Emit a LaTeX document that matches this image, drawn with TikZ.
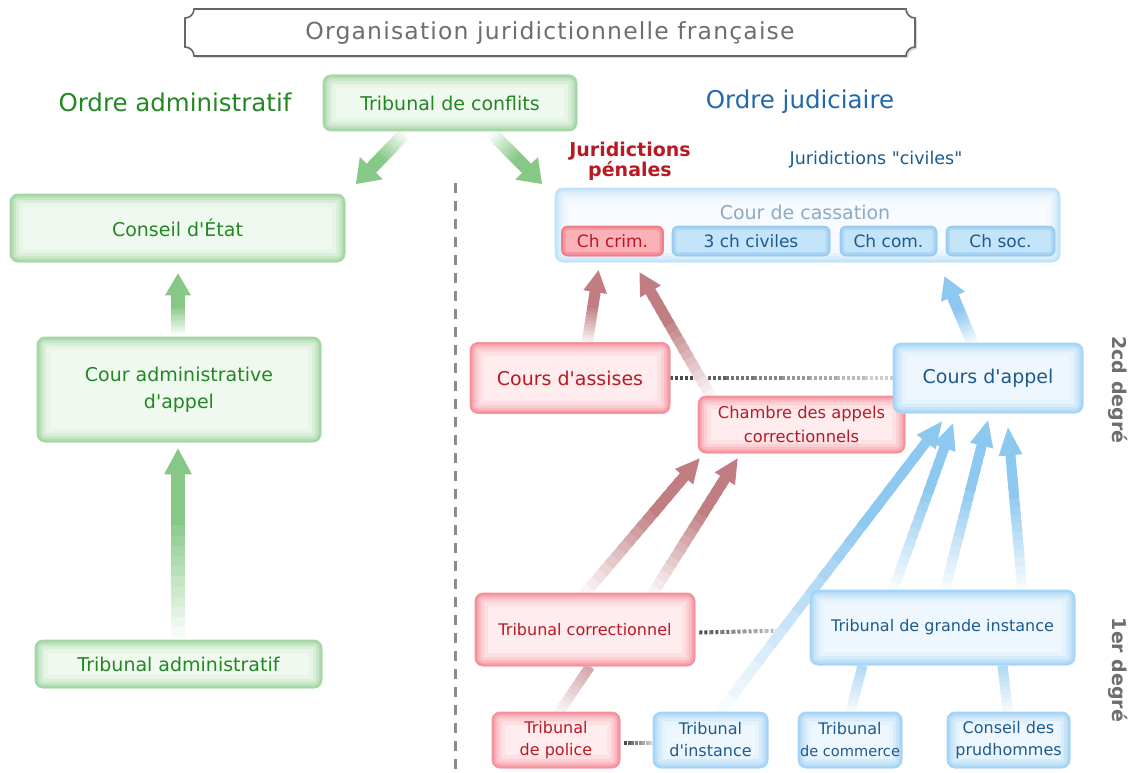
\documentclass[tikz,border=0pt]{standalone}
\usepackage{fontspec}
\setmainfont{DejaVu Sans}
\newfontfamily\titlefont{DejaVu Sans}[LetterSpace=5]
\usetikzlibrary{calc,backgrounds}

\definecolor{gE}{RGB}{160,212,160}
\definecolor{gF}{RGB}{240,249,240}
\definecolor{gT}{RGB}{35,135,35}
\definecolor{rE}{RGB}{245,140,150}
\definecolor{rF}{RGB}{255,236,238}
\definecolor{rT}{RGB}{185,25,35}
\definecolor{bE}{RGB}{160,210,245}
\definecolor{bF}{RGB}{238,247,254}
\definecolor{bT}{RGB}{30,90,140}
\definecolor{bT2}{RGB}{35,105,170}
\definecolor{ccE}{RGB}{190,225,250}
\definecolor{ccF}{RGB}{247,251,255}
\definecolor{ccT}{RGB}{140,170,195}
\definecolor{sbE}{RGB}{150,200,240}
\definecolor{sbF}{RGB}{196,228,250}
\definecolor{srE}{RGB}{240,120,130}
\definecolor{srF}{RGB}{250,178,184}
\definecolor{gA}{RGB}{135,200,135}
\definecolor{rA}{RGB}{192,125,130}
\definecolor{bA}{RGB}{140,200,240}
\definecolor{grayT}{RGB}{110,110,110}

\tikzset{
  glow/.style n args={3}{rectangle, rounded corners=8pt, inner sep=0pt, align=center,
    text=#3, fill=#2, draw=#1!85!#2, line width=0.8pt,
    path picture={
      \draw[#1!12!#2, line width=26pt, rounded corners=8pt] (path picture bounding box.south west) rectangle (path picture bounding box.north east);
      \draw[#1!30!#2, line width=18pt, rounded corners=8pt] (path picture bounding box.south west) rectangle (path picture bounding box.north east);
      \draw[#1!50!#2, line width=12pt, rounded corners=8pt] (path picture bounding box.south west) rectangle (path picture bounding box.north east);
      \draw[#1!75!#2, line width=7pt, rounded corners=8pt] (path picture bounding box.south west) rectangle (path picture bounding box.north east);
      \draw[#1, line width=3pt, rounded corners=8pt] (path picture bounding box.south west) rectangle (path picture bounding box.north east);}},
  subglow/.style n args={3}{rectangle, rounded corners=6pt, inner sep=0pt, align=center,
    text=#3, fill=#2, draw=#1!80!#2, line width=0.6pt, minimum height=30pt,
    font=\fontsize{17}{20}\selectfont,
    path picture={
      \draw[#1!50!#2, line width=8pt, rounded corners=6pt] (path picture bounding box.south west) rectangle (path picture bounding box.north east);
      \draw[#1, line width=3pt, rounded corners=6pt] (path picture bounding box.south west) rectangle (path picture bounding box.north east);}},
  gbox/.style={glow={gE}{gF}{gT}, font=\fontsize{19}{27}\selectfont},
  rbox/.style={glow={rE}{rF}{rT}},
  bbox/.style={glow={bE}{bF}{bT}},
  bigtxt/.style={font=\fontsize{19}{24}\selectfont},
  midtxt/.style={font=\fontsize{16.3}{24}\selectfont},
  smltxt/.style={font=\fontsize{16}{22}\selectfont},
  degre/.style={rotate=-90, text=grayT, font=\bfseries\fontsize{19}{22}\selectfont},
  sepline/.style={draw=black!45, line width=3pt, dash pattern=on 10pt off 8pt},
}

% fat arrow: from, to, colour, shaft width, half head width, head length
\newcommand\fatarr[6]{%
  \coordinate (hb) at ($(#2)!#6!(#1)$);
  \foreach \i in {0,...,15}{
    \pgfmathtruncatemacro\pc{min(100,8+92*\i/11)}
    \draw[line width=#4, draw=#3!\pc!white] ($(#1)!\i/16!(hb)$) -- ($(#1)!{min(1.02,(\i+1.4)/16)}!(hb)$);
  }
  \fill[#3] (#2) -- ($(hb)!#5!90:(#2)$) -- ($(hb)!#5!-90:(#2)$) -- cycle;
}
% fading shaft without head
\newcommand\fatline[4]{%
  \foreach \i in {0,...,11}{
    \pgfmathtruncatemacro\pc{8+60*\i/11}
    \draw[line width=#4, draw=#3!\pc!white] ($(#1)!\i/12!(#2)$) -- ($(#1)!{min(1,(\i+1.4)/12)}!(#2)$);
  }
}
% dotted grey connector, dark to light
\newcommand\dotconn[2]{%
  \foreach \i in {0,...,7}{
    \pgfmathtruncatemacro\pc{70-50*\i/7}
    \draw[draw=black!\pc, line width=4pt, dash pattern=on 3pt off 2pt] ($(#1)!\i/8!(#2)$) -- ($(#1)!{(\i+1)/8}!(#2)$);
  }
}
\newcommand\ap{\textquotesingle}

\begin{document}
\begin{tikzpicture}[x=1pt,y=-1pt]
\useasboundingbox (0,0) rectangle (1137,773);

% title
\fill[black!15] (187,20) .. controls (192,20) and (196,16) .. (196,11) -- (908,11) .. controls (908,16) and (912,20) .. (917,20) -- (917,49) .. controls (912,49) and (908,53) .. (908,58) -- (196,58) .. controls (196,53) and (192,49) .. (187,49) -- cycle;
\filldraw[fill=white, draw=black!60, line width=1.6pt] (185,18) .. controls (190,18) and (194,14) .. (194,9) -- (906,9) .. controls (906,14) and (910,18) .. (915,18) -- (915,47) .. controls (910,47) and (906,51) .. (906,56) -- (194,56) .. controls (194,51) and (190,47) .. (185,47) -- cycle;
\node[text=grayT, font=\titlefont\fontsize{23.5}{26}\selectfont] (title) at (550,33) {Organisation juridictionnelle française};

% headings
\node[text=gT, font=\fontsize{24.5}{28}\selectfont] (oadm) at (175,102) {Ordre administratif};
\node[text=bT2, font=\fontsize{24.5}{28}\selectfont] (ojud) at (800,102) {Ordre judiciaire};
\node[text=rT, align=center, font=\bfseries\fontsize{19}{20}\selectfont] (jpen) at (630,161) {Juridictions\\pénales};
\node[text=bT, font=\fontsize{17.5}{20}\selectfont] (jciv) at (876,160) {Juridictions \textquotedbl civiles\textquotedbl};

% administrative order
\node[gbox, minimum width=254pt, minimum height=56pt] (tc) at (450,103) {Tribunal de conflits};
\node[gbox, minimum width=335pt, minimum height=68pt] (ce) at (177.5,228) {Conseil d\ap État};
\node[gbox, minimum width=284pt, minimum height=105pt] (caa) at (179,389.5) {Cour administrative\\d\ap appel};
\node[gbox, minimum width=287pt, minimum height=48pt] (ta) at (178.5,664) {Tribunal administratif};

% Cour de cassation
\node[glow={ccE}{ccF}{ccT}, minimum width=505pt, minimum height=74pt] (cass) at (807.5,225) {};
\node[text=ccT, font=\fontsize{19}{22}\selectfont] (casslbl) at (805,212) {Cour de cassation};
\node[subglow={srE}{srF}{rT}, minimum width=102pt] (chcrim) at (612.5,241) {Ch crim.};
\node[subglow={sbE}{sbF}{bT}, minimum width=158pt] (chciv) at (751,241) {3 ch civiles};
\node[subglow={sbE}{sbF}{bT}, minimum width=97pt] (chcom) at (888.5,241) {Ch com.};
\node[subglow={sbE}{sbF}{bT}, minimum width=109pt] (chsoc) at (1000.5,241) {Ch soc.};

% second degree
\node[rbox, bigtxt, minimum width=200pt, minimum height=71pt] (assises) at (570,378) {Cours d\ap assises};
\node[rbox, midtxt, minimum width=207pt, minimum height=57pt] (chapp) at (801.5,424.5) {Chambre des appels\\correctionnels};
\node[bbox, bigtxt, minimum width=190pt, minimum height=70pt] (appel) at (988,378) {Cours d\ap appel};

% first degree
\node[rbox, smltxt, minimum width=220pt, minimum height=73pt] (corr) at (585,629.5) {Tribunal correctionnel};
\node[bbox, smltxt, minimum width=265pt, minimum height=75pt] (tgi) at (942.5,627.5) {Tribunal de grande instance};
\node[rbox, smltxt, minimum width=128pt, minimum height=56pt] (police) at (556,740) {Tribunal\\de police};
\node[bbox, smltxt, minimum width=115pt, minimum height=56pt] (inst) at (710.5,740) {Tribunal\\d\ap instance};
\node[bbox, smltxt, minimum width=104pt, minimum height=56pt] (comm) at (850,740) {Tribunal\\{\fontsize{14.6}{22}\selectfont de commerce}};
\node[bbox, smltxt, minimum width=123pt, minimum height=56pt] (prud) at (1008.5,740) {Conseil des\\prudhommes};

% degree labels
\node[degre] (deg2) at (1118,390) {2cd degré};
\node[degre] (deg1) at (1118,670) {1er degré};

% arrow end points
\coordinate (g1s) at ($(tc.south)+(-45,2)$);
\coordinate (g1e) at (356,184);
\coordinate (g2s) at ($(tc.south)+(42,2)$);
\coordinate (g2e) at (542,184);
\coordinate (g3s) at ($(caa.north)+(-1,-2)$);
\coordinate (g3e) at ($(ce.south)+(0.5,11)$);
\coordinate (g4s) at ($(ta.north)+(-0.5,-2)$);
\coordinate (g4e) at ($(caa.south)+(-1,6)$);
\coordinate (r1s) at ($(assises.north)+(17,2)$);
\coordinate (r1e) at ($(chcrim.south)+(-14,14)$);
\coordinate (r2s) at ($(chapp.north west)+(14,2)$);
\coordinate (r2e) at ($(chcrim.south)+(27,16)$);
\coordinate (r3s) at ($(corr.north)+(-1,2)$);
\coordinate (r3e) at ($(chapp.south west)+(2,5)$);
\coordinate (r4s) at ($(corr.north)+(67,2)$);
\coordinate (r4e) at ($(chapp.south west)+(40,5)$);
\coordinate (r5s) at ($(police.north)+(2,2)$);
\coordinate (r5e) at ($(corr.south)+(5,0)$);
\coordinate (b1s) at ($(appel.north)+(-15,2)$);
\coordinate (b1e) at ($(cass.south)+(137,14)$);
\coordinate (b2s) at ($(inst.north)+(8,2)$);
\coordinate (b2e) at ($(appel.south)+(-46,8)$);
\coordinate (b3s) at ($(tgi.north)+(-50,2)$);
\coordinate (b3e) at ($(appel.south)+(-35,10)$);
\coordinate (b4s) at ($(tgi.north)+(2,2)$);
\coordinate (b4e) at ($(appel.south)+(0,7)$);
\coordinate (b5s) at ($(tgi.north)+(80,2)$);
\coordinate (b5e) at ($(appel.south)+(20,14)$);
\coordinate (b6s) at ($(comm.north)+(0,2)$);
\coordinate (b6e) at ($(tgi.south)+(-80,0)$);
\coordinate (b7s) at ($(prud.north)+(-0.5,2)$);
\coordinate (b7e) at ($(tgi.south)+(60,0)$);
\coordinate (vtop) at (455,183);
\coordinate (vbot) at (455,773);

\begin{pgfonlayer}{background}
  \fill[white] (0,0) rectangle (1137,773);
  \draw[sepline] (vtop) -- (vbot);
  \dotconn{assises.east}{appel.west}
  \dotconn{$(corr.east)+(4,3)$}{$(tgi.west)+(-22,3)$}
  \dotconn{$(police.east)+(4,3)$}{$(inst.west)+(0,3)$}
  % green
  \fatarr{g1s}{g1e}{gA}{13pt}{16pt}{22pt}
  \fatarr{g2s}{g2e}{gA}{13pt}{16pt}{22pt}
  \fatarr{g3s}{g3e}{gA}{14pt}{13pt}{22pt}
  \fatarr{g4s}{g4e}{gA}{14pt}{14pt}{26pt}
  % red
  \fatarr{r1s}{r1e}{rA}{11pt}{12pt}{22pt}
  \fatarr{r2s}{r2e}{rA}{11pt}{12pt}{22pt}
  \fatarr{r3s}{r3e}{rA}{11pt}{12pt}{24pt}
  \fatarr{r4s}{r4e}{rA}{11pt}{12pt}{24pt}
  \fatline{r5s}{r5e}{rA}{10pt}
  % blue
  \fatarr{b1s}{b1e}{bA}{12pt}{13pt}{22pt}
  \fatarr{b2s}{b2e}{bA}{10pt}{12pt}{26pt}
  \fatarr{b3s}{b3e}{bA}{10pt}{12pt}{26pt}
  \fatarr{b4s}{b4e}{bA}{10pt}{12pt}{26pt}
  \fatarr{b5s}{b5e}{bA}{10pt}{12pt}{28pt}
  \fatline{b6s}{b6e}{bA}{10pt}
  \fatline{b7s}{b7e}{bA}{10pt}
\end{pgfonlayer}
\end{tikzpicture}
\end{document}
